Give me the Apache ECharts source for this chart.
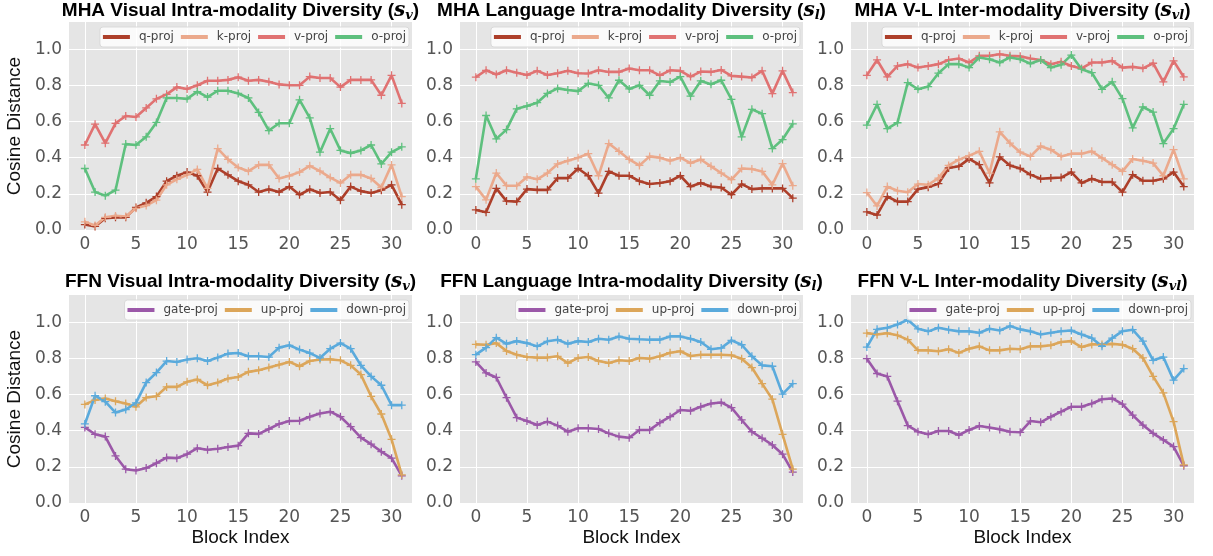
<!DOCTYPE html>
<html lang="en">
<head>
    <meta charset="UTF-8">
    <title>Attention / FFN projection diversity</title>
    <script src="https://cdn.jsdelivr.net/npm/echarts@6/dist/echarts.min.js"></script>
    <style>
        html, body, #chart { width: 100%; height: 100%; margin: 0; padding: 0; background: #fff; }
        body { overflow: hidden; }
    </style>
</head>
<body>
    <div id="chart"></div>
    <script>
        // x axis: transformer block index
        const blocks = [0, 1, 2, 3, 4, 5, 6, 7, 8, 9, 10, 11, 12, 13, 14, 15,
                        16, 17, 18, 19, 20, 21, 22, 23, 24, 25, 26, 27, 28, 29, 30, 31];
        const xTicks = [0, 5, 10, 15, 20, 25, 30];
        const yTicks = [0, 0.2, 0.4, 0.6, 0.8, 1.0];

        const mhaNames = ['q-proj', 'k-proj', 'v-proj', 'o-proj'];
        const ffnNames = ['gate-proj', 'up-proj', 'down-proj'];

        // MHA - visual intra-modality
        const mhaVisQ = [0.03, 0.02, 0.065, 0.07, 0.07, 0.125, 0.15, 0.185, 0.27, 0.30, 0.32, 0.30, 0.21, 0.34, 0.305, 0.27, 0.25, 0.21, 0.225, 0.21, 0.24, 0.195, 0.225, 0.205, 0.21, 0.165, 0.24, 0.215, 0.205, 0.22, 0.25, 0.14];
        const mhaVisK = [0.045, 0.025, 0.07, 0.078, 0.075, 0.12, 0.135, 0.165, 0.25, 0.28, 0.305, 0.335, 0.23, 0.45, 0.39, 0.345, 0.325, 0.36, 0.36, 0.285, 0.30, 0.32, 0.355, 0.325, 0.29, 0.26, 0.305, 0.305, 0.285, 0.235, 0.36, 0.185];
        const mhaVisV = [0.47, 0.585, 0.48, 0.59, 0.63, 0.625, 0.675, 0.725, 0.75, 0.79, 0.78, 0.80, 0.825, 0.825, 0.83, 0.845, 0.825, 0.83, 0.82, 0.805, 0.80, 0.80, 0.848, 0.84, 0.84, 0.79, 0.83, 0.83, 0.83, 0.745, 0.855, 0.70];
        const mhaVisO = [0.34, 0.21, 0.19, 0.22, 0.475, 0.47, 0.515, 0.595, 0.73, 0.73, 0.725, 0.765, 0.735, 0.77, 0.77, 0.755, 0.73, 0.65, 0.55, 0.59, 0.59, 0.72, 0.62, 0.43, 0.56, 0.44, 0.425, 0.44, 0.47, 0.365, 0.43, 0.46];

        // MHA - language intra-modality
        const mhaLangQ = [0.111, 0.098, 0.23, 0.16, 0.157, 0.226, 0.222, 0.222, 0.287, 0.287, 0.34, 0.30, 0.204, 0.324, 0.30, 0.30, 0.27, 0.254, 0.26, 0.27, 0.30, 0.24, 0.26, 0.24, 0.235, 0.195, 0.254, 0.226, 0.23, 0.23, 0.23, 0.176];
        const mhaLangK = [0.24, 0.167, 0.315, 0.245, 0.245, 0.293, 0.28, 0.315, 0.365, 0.383, 0.40, 0.422, 0.30, 0.478, 0.435, 0.39, 0.357, 0.407, 0.40, 0.383, 0.40, 0.37, 0.39, 0.352, 0.315, 0.278, 0.34, 0.337, 0.324, 0.25, 0.367, 0.245];
        const mhaLangV = [0.845, 0.883, 0.86, 0.883, 0.87, 0.857, 0.88, 0.857, 0.867, 0.88, 0.867, 0.865, 0.883, 0.874, 0.874, 0.893, 0.883, 0.883, 0.855, 0.883, 0.88, 0.848, 0.876, 0.874, 0.885, 0.852, 0.848, 0.843, 0.88, 0.754, 0.88, 0.76];
        const mhaLangO = [0.283, 0.633, 0.504, 0.555, 0.67, 0.685, 0.704, 0.755, 0.783, 0.774, 0.768, 0.81, 0.80, 0.73, 0.828, 0.78, 0.80, 0.745, 0.824, 0.818, 0.848, 0.74, 0.824, 0.806, 0.828, 0.722, 0.515, 0.667, 0.643, 0.45, 0.50, 0.587];

        // MHA - V-L inter-modality
        const mhaVlQ = [0.10, 0.083, 0.185, 0.157, 0.157, 0.226, 0.237, 0.256, 0.343, 0.352, 0.393, 0.361, 0.26, 0.404, 0.357, 0.34, 0.306, 0.283, 0.287, 0.29, 0.32, 0.26, 0.283, 0.265, 0.265, 0.209, 0.306, 0.272, 0.272, 0.283, 0.32, 0.24];
        const mhaVlK = [0.207, 0.133, 0.24, 0.217, 0.209, 0.254, 0.25, 0.287, 0.357, 0.389, 0.411, 0.435, 0.315, 0.543, 0.48, 0.43, 0.407, 0.463, 0.444, 0.407, 0.422, 0.422, 0.435, 0.398, 0.361, 0.324, 0.393, 0.383, 0.37, 0.30, 0.444, 0.283];
        const mhaVlV = [0.855, 0.94, 0.846, 0.907, 0.917, 0.898, 0.907, 0.917, 0.94, 0.948, 0.926, 0.963, 0.963, 0.972, 0.963, 0.96, 0.948, 0.94, 0.917, 0.93, 0.907, 0.893, 0.926, 0.926, 0.935, 0.898, 0.902, 0.894, 0.922, 0.819, 0.935, 0.846];
        const mhaVlO = [0.58, 0.694, 0.56, 0.593, 0.815, 0.778, 0.793, 0.867, 0.917, 0.917, 0.898, 0.954, 0.944, 0.926, 0.954, 0.944, 0.92, 0.94, 0.898, 0.913, 0.967, 0.889, 0.87, 0.778, 0.819, 0.726, 0.565, 0.68, 0.652, 0.478, 0.56, 0.694];

        // FFN - visual intra-modality
        const ffnVisGate = [0.418, 0.38, 0.367, 0.26, 0.187, 0.18, 0.193, 0.22, 0.251, 0.248, 0.27, 0.303, 0.294, 0.30, 0.31, 0.317, 0.385, 0.382, 0.409, 0.437, 0.453, 0.455, 0.477, 0.495, 0.505, 0.477, 0.422, 0.361, 0.325, 0.284, 0.248, 0.15];
        const ffnVisUp = [0.545, 0.569, 0.578, 0.563, 0.55, 0.532, 0.583, 0.59, 0.642, 0.642, 0.67, 0.683, 0.651, 0.666, 0.688, 0.697, 0.725, 0.734, 0.749, 0.765, 0.78, 0.756, 0.785, 0.793, 0.794, 0.789, 0.761, 0.71, 0.59, 0.492, 0.352, 0.156];
        const ffnVisDown = [0.437, 0.593, 0.56, 0.50, 0.517, 0.554, 0.666, 0.721, 0.785, 0.78, 0.793, 0.80, 0.785, 0.804, 0.826, 0.829, 0.811, 0.811, 0.807, 0.859, 0.872, 0.848, 0.829, 0.802, 0.853, 0.884, 0.853, 0.761, 0.70, 0.651, 0.541, 0.541];

        // FFN - language intra-modality
        const ffnLangGate = [0.78, 0.719, 0.694, 0.582, 0.472, 0.453, 0.431, 0.45, 0.428, 0.394, 0.413, 0.413, 0.409, 0.385, 0.367, 0.361, 0.404, 0.404, 0.444, 0.477, 0.514, 0.51, 0.532, 0.55, 0.556, 0.527, 0.459, 0.394, 0.358, 0.321, 0.27, 0.171];
        const ffnLangUp = [0.877, 0.875, 0.884, 0.84, 0.82, 0.807, 0.804, 0.804, 0.811, 0.774, 0.802, 0.807, 0.785, 0.774, 0.789, 0.785, 0.802, 0.798, 0.811, 0.831, 0.839, 0.813, 0.82, 0.82, 0.82, 0.817, 0.798, 0.749, 0.66, 0.574, 0.38, 0.187];
        const ffnLangDown = [0.82, 0.859, 0.914, 0.88, 0.895, 0.884, 0.866, 0.894, 0.903, 0.88, 0.895, 0.89, 0.908, 0.903, 0.921, 0.908, 0.905, 0.903, 0.903, 0.921, 0.921, 0.908, 0.89, 0.85, 0.857, 0.899, 0.875, 0.811, 0.761, 0.756, 0.602, 0.66];

        // FFN - V-L inter-modality
        const ffnVlGate = [0.798, 0.716, 0.70, 0.563, 0.428, 0.394, 0.38, 0.398, 0.398, 0.376, 0.404, 0.426, 0.417, 0.407, 0.394, 0.391, 0.453, 0.446, 0.477, 0.505, 0.532, 0.532, 0.55, 0.574, 0.578, 0.547, 0.486, 0.431, 0.385, 0.349, 0.312, 0.206];
        const ffnVlUp = [0.939, 0.932, 0.939, 0.927, 0.903, 0.844, 0.844, 0.839, 0.85, 0.83, 0.853, 0.866, 0.844, 0.844, 0.853, 0.85, 0.866, 0.866, 0.872, 0.89, 0.895, 0.862, 0.877, 0.877, 0.88, 0.875, 0.853, 0.802, 0.70, 0.609, 0.45, 0.211];
        const ffnVlDown = [0.862, 0.96, 0.969, 0.987, 1.013, 0.963, 0.949, 0.969, 0.958, 0.949, 0.949, 0.941, 0.963, 0.954, 0.978, 0.96, 0.949, 0.932, 0.941, 0.95, 0.954, 0.932, 0.912, 0.866, 0.912, 0.95, 0.958, 0.895, 0.789, 0.807, 0.679, 0.743];

        const mhaColors = ['#ad3f2a', '#eba98c', '#e07272', '#5ec07e'];
        const ffnColors = ['#9b58a8', '#dca65a', '#5aaadc'];

        const panels = [
            { row: 0, col: 0, title: 'MHA Visual Intra-modality Diversity ', sub: 'v', names: mhaNames, colors: mhaColors, series: [mhaVisQ, mhaVisK, mhaVisV, mhaVisO] },
            { row: 0, col: 1, title: 'MHA Language Intra-modality Diversity ', sub: 'l', names: mhaNames, colors: mhaColors, series: [mhaLangQ, mhaLangK, mhaLangV, mhaLangO] },
            { row: 0, col: 2, title: 'MHA V-L Inter-modality Diversity ', sub: 'vl', names: mhaNames, colors: mhaColors, series: [mhaVlQ, mhaVlK, mhaVlV, mhaVlO] },
            { row: 1, col: 0, title: 'FFN Visual Intra-modality Diversity ', sub: 'v', names: ffnNames, colors: ffnColors, series: [ffnVisGate, ffnVisUp, ffnVisDown] },
            { row: 1, col: 1, title: 'FFN Language Intra-modality Diversity ', sub: 'l', names: ffnNames, colors: ffnColors, series: [ffnLangGate, ffnLangUp, ffnLangDown] },
            { row: 1, col: 2, title: 'FFN V-L Inter-modality Diversity ', sub: 'vl', names: ffnNames, colors: ffnColors, series: [ffnVlGate, ffnVlUp, ffnVlDown] }
        ];

        // layout (pixels)
        const W = 1213;
        const colLeft = [69, 460, 851];
        const gridW = 343;
        const rowTop = [22, 295];
        const gridH = 208;

        const plusPath = 'path://M0,4.2H10V5.8H0Z M4.2,0H5.8V10H4.2Z';
        const tickFont = 'DejaVu Sans';
        const textFont = 'Liberation Sans';

        const chart = echarts.init(document.getElementById('chart'));

        const grids = [], xAxes = [], yAxes = [], titles = [], legends = [], series = [];

        panels.forEach(function (p, i) {
            const left = colLeft[p.col];
            const top = rowTop[p.row];
            grids.push({
                left: left, top: top, width: gridW, height: gridH,
                show: true, backgroundColor: '#e5e5e5', borderWidth: 0
            });
            xAxes.push({
                type: 'value', gridIndex: i, min: -1.55, max: 32.0,
                axisLine: { show: false }, axisTick: { show: false, customValues: xTicks },
                axisLabel: { customValues: xTicks, color: '#555', fontFamily: tickFont, fontSize: 17, margin: 6 },
                splitLine: { show: true, lineStyle: { color: '#fff', width: 1 } },
                name: p.row === 1 ? 'Block Index' : '',
                nameLocation: 'middle', nameGap: 25,
                nameTextStyle: { color: '#111', fontFamily: textFont, fontSize: 19 }
            });
            yAxes.push({
                type: 'value', gridIndex: i, min: 0, max: 1.15,
                axisLine: { show: false }, axisTick: { show: false, customValues: yTicks },
                axisLabel: { customValues: yTicks, color: '#555', fontFamily: tickFont, fontSize: 17, margin: 7,
                             formatter: function (v) { return v.toFixed(1); } },
                splitLine: { show: true, lineStyle: { color: '#fff', width: 1 } },
                name: p.col === 0 ? 'Cosine Distance' : '',
                nameLocation: 'middle', nameGap: 45,
                nameTextStyle: { color: '#111', fontFamily: textFont, fontSize: 19 }
            });
            titles.push({
                left: left + gridW / 2, top: p.row === 0 ? 0 : 271, textAlign: 'center', padding: 0,
                text: p.title + '({s|s}{sub|' + p.sub + '})',
                textStyle: {
                    fontFamily: textFont, fontWeight: 'bold', fontSize: 19, color: '#000', lineHeight: 22,
                    rich: {
                        s: { fontFamily: 'DejaVu Serif', fontStyle: 'italic', fontWeight: 'bold', fontSize: 20, color: '#000', lineHeight: 22 },
                        sub: { fontFamily: 'DejaVu Serif', fontStyle: 'italic', fontWeight: 'bold', fontSize: 13, color: '#000', lineHeight: 12, verticalAlign: 'bottom' }
                    }
                }
            });
            legends.push({
                data: p.names,
                right: W - (left + gridW) + 3, top: top + 5,
                orient: 'horizontal', icon: 'rect', itemWidth: 27, itemHeight: 4, itemGap: 7,
                padding: [4, 3, 4, 3],
                backgroundColor: 'rgba(255,255,255,0.8)', borderColor: '#d9d9d9', borderWidth: 1, borderRadius: 3,
                selectedMode: false,
                textStyle: { color: '#444', fontFamily: tickFont, fontSize: 12, padding: [0, 0, 0, 4] }
            });
            p.series.forEach(function (vals, k) {
                series.push({
                    type: 'line', name: p.names[k], xAxisIndex: i, yAxisIndex: i,
                    data: blocks.map(function (b, j) { return [b, vals[j]]; }),
                    symbol: plusPath, symbolSize: 8, showAllSymbol: true,
                    lineStyle: { color: p.colors[k], width: 2.6 },
                    itemStyle: { color: p.colors[k] },
                    emphasis: { disabled: true },
                    animation: false
                });
            });
        });

        chart.setOption({
            backgroundColor: '#fff',
            animation: false,
            title: titles,
            legend: legends,
            grid: grids,
            xAxis: xAxes,
            yAxis: yAxes,
            series: series
        });

        window.addEventListener('resize', function () {
            chart.resize();
        });
    </script>
</body>
</html>
